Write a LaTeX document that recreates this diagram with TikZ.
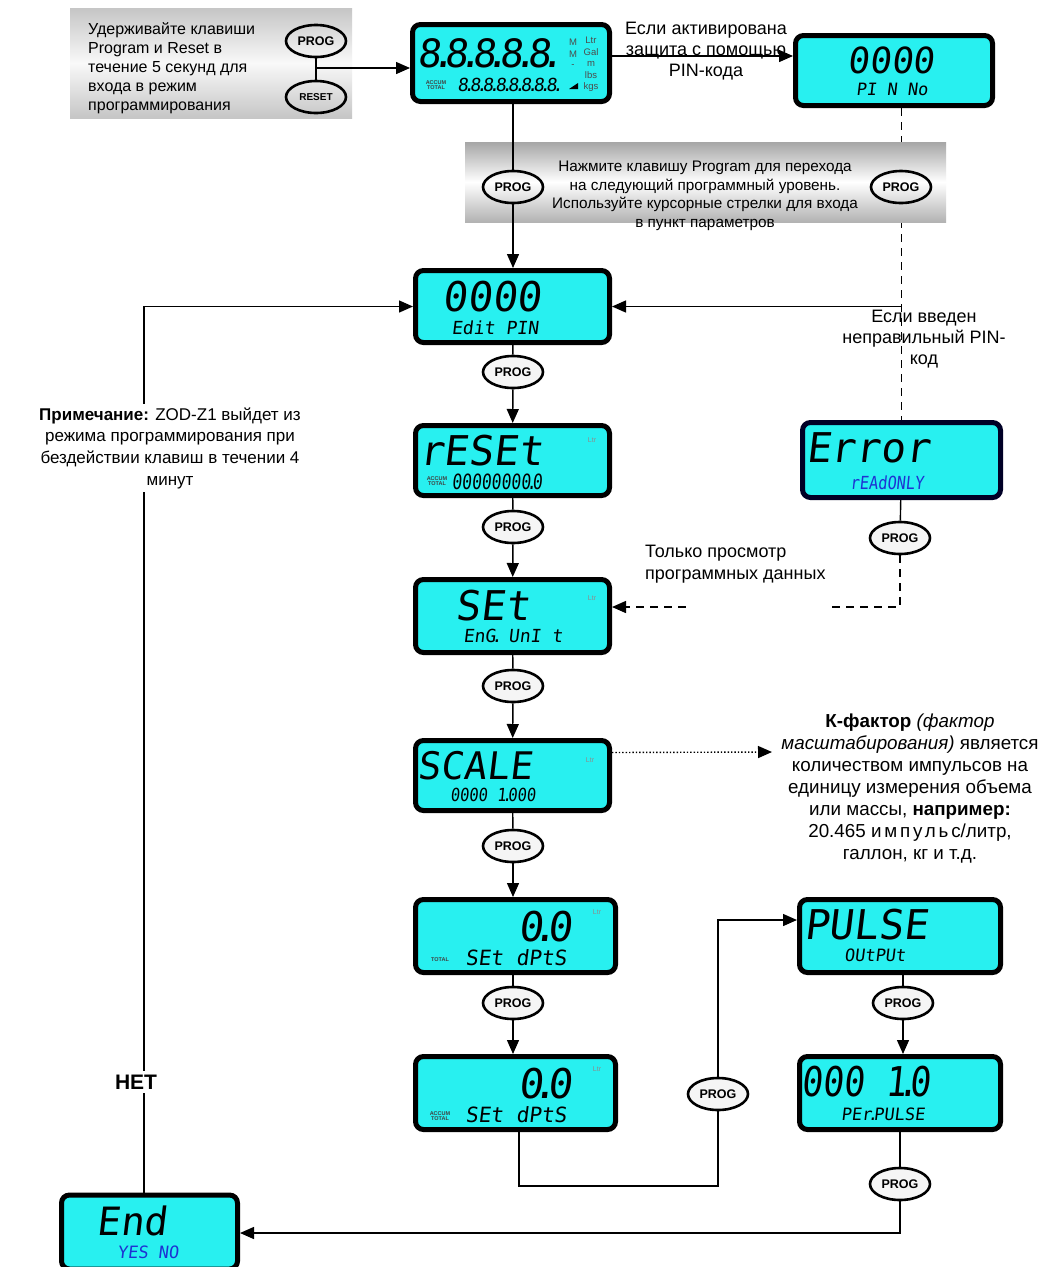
\documentclass[tikz,border=0pt]{standalone}
\usepackage{fontspec}
\setmainfont{Liberation Sans}
\newfontfamily\lcdfont[FakeSlant=0.12]{DejaVu Sans Mono}
\usetikzlibrary{arrows.meta,shapes.geometric,calc}
\definecolor{lcdc}{RGB}{40,240,240}
\definecolor{lcdblue}{RGB}{30,50,210}
\newcommand\dt{\kern-0.25em.\kern-0.25em}
\tikzset{
 lcd/.style={draw=black, line width=5pt, rounded corners=8pt, fill=lcdc, inner sep=0pt},
 prog/.style={ellipse, draw=black, line width=2.6pt, fill=gray!8, minimum width=60pt, minimum height=32pt, inner sep=0pt, font=\fontsize{12.5}{12.5}\selectfont\bfseries},
 bprog/.style={prog, fill=none},
 arr/.style={line width=1.4pt, -{Triangle[length=14pt,width=12pt]}},
 ln/.style={line width=1.4pt},
 dsh/.style={line width=1.4pt, dash pattern=on 8pt off 6pt},
 big/.style={font=\lcdfont\fontsize{41}{41}\selectfont, inner sep=0pt},
 small/.style={font=\lcdfont\fontsize{18}{18}\selectfont, inner sep=0pt},
 tiny/.style={font=\fontsize{5.5}{5.5}\selectfont\bfseries, inner sep=0pt, align=center, text=black!75},
 ind/.style={font=\fontsize{7}{7}\selectfont, inner sep=0pt, text=black!45},
 unit/.style={font=\fontsize{9.5}{11.5}\selectfont, inner sep=0pt, align=center, text=black!70},
 txt/.style={font=\fontsize{16}{21}\selectfont, align=center, inner sep=0pt},
}
\begin{document}
\begin{tikzpicture}[x=1pt,y=-1pt]
\clip (0,0) rectangle (1042,1267);
\fill[white] (0,0) rectangle (1042,1267);
% ---------- top-left grey box
\shade[top color=gray!45, bottom color=gray!45, middle color=gray!5] (70,8) rectangle (352,118);
\node[txt, align=left, anchor=west, font=\fontsize{16}{19}\selectfont] (hold) at (88,68)
 {Удерживайте клавиши\\Program и Reset в\\течение 5 секунд для\\входа в режим\\программирования};
\node[bprog] (tprog) at (316,41) {PROG};
\node[bprog, font=\fontsize{10}{10}\selectfont\bfseries] (treset) at (316,97) {RESET};
\draw[ln] (tprog) -- (treset);
\coordinate (j1) at (316,68);
% ---------- LCD boxes
\node[lcd, minimum width=197pt, minimum height=77pt] (top) at (511,63) {};
\node[lcd, minimum width=197pt, minimum height=70pt] (pin) at (894,70.5) {};
\node[lcd, minimum width=194pt, minimum height=72pt] (editpin) at (512.5,306.5) {};
\node[lcd, minimum width=194pt, minimum height=70pt] (reset) at (512.5,460.5) {};
\node[lcd, minimum width=194pt, minimum height=73pt] (set) at (512.5,616) {};
\node[lcd, minimum width=194pt, minimum height=70pt] (scale) at (512.5,775.5) {};
\node[lcd, minimum width=200pt, minimum height=73pt] (dp1) at (515.5,936) {};
\node[lcd, minimum width=200pt, minimum height=73pt] (dp2) at (515.5,1093) {};
\node[lcd, minimum width=201pt, minimum height=73pt] (pulse) at (900,936) {};
\node[lcd, minimum width=201pt, minimum height=73pt] (pp10) at (900,1093) {};
\node[lcd, draw=black!85!blue, minimum width=198pt, minimum height=75pt] (error) at (901.5,460) {};
\node[lcd, minimum width=176pt, minimum height=74pt] (endb) at (149.5,1232) {};
% ---------- LCD contents
\node[big, font=\lcdfont\fontsize{39}{39}\selectfont] (t1) at (486,53) {8\dt8\dt8\dt8\dt8\dt};
\node[tiny] (t2) at (436,85) {ACCUM\\TOTAL};
\node[big, font=\lcdfont\fontsize{18}{18}\selectfont] (t3) at (508,85) {8\dt8\dt8\dt8\dt8\dt8\dt8\dt8\dt};
\node[unit] (t4) at (573,48) {M\\M};
\node[unit] (t4b) at (573,66) {-};
\node[unit] (t5) at (591,64.5) {Ltr\\Gal\\m\\lbs\\kgs};
\fill (569,89) -- (578,83) -- (578,89) -- cycle;
\node[big, font=\lcdfont\fontsize{36}{36}\selectfont] (pn1) at (891,60) {0000};
\node[small, font=\lcdfont\fontsize{17}{17}\selectfont] (pn2) at (892,89) {PI N No};
\node[big] (ep1) at (492,297) {0000};
\node[small] (ep2) at (495,328) {Edit PIN};
\node[big] (rs1) at (481,451) {rESEt};
\node[tiny] (rs2) at (437,481) {ACCUM\\TOTAL};
\node[big, font=\lcdfont\fontsize{21}{21}\selectfont] (rs3) at (497,482) {\scalebox{0.78}[1]{00000000\dt0}};
\node[ind] (rs4) at (592,440) {Ltr};
\node[big] (st1) at (493,606) {SEt};
\node[small] (st2) at (513,636) {EnG\dt\ UnI t};
\node[ind] (st3) at (592,598) {Ltr};
\node[big, font=\lcdfont\fontsize{38}{38}\selectfont] (sc1) at (475,766) {SCALE};
\node[small] (sc2) at (493,795) {\scalebox{0.86}[1]{0000 1\dt000}};
\node[ind] (sc3) at (590,760) {Ltr};
\node[big] (d11) at (545,927) {0\dt0};
\node[tiny] (d12) at (440,960) {TOTAL};
\node[small, font=\lcdfont\fontsize{21}{21}\selectfont] (d13) at (516,958) {SEt dPtS};
\node[ind] (d14) at (597,912) {Ltr};
\node[big] (d21) at (545,1084) {0\dt0};
\node[tiny] (d22) at (440,1116) {ACCUM\\TOTAL};
\node[small, font=\lcdfont\fontsize{21}{21}\selectfont] (d23) at (516,1115) {SEt dPtS};
\node[ind] (d24) at (597,1069) {Ltr};
\node[big] (pl1) at (866,925) {PULSE};
\node[small, font=\lcdfont\fontsize{17}{17}\selectfont] (pl2) at (875,955) {OUtPUt};
\node[big] (pp1) at (866,1082) {\scalebox{0.85}[1]{000 1\dt0}};
\node[small, font=\lcdfont\fontsize{17}{17}\selectfont] (pp2) at (883,1114) {PEr\dt PULSE};
\node[big] (er1) at (868,448) {Error};
\node[small, text=lcdblue] (er2) at (887,483) {\scalebox{0.85}[1]{rEAdONLY}};
\node[big, font=\lcdfont\fontsize{39}{39}\selectfont] (en1) at (132,1221) {End};
\node[small, text=lcdblue, font=\lcdfont\fontsize{17}{17}\selectfont] (en2) at (148,1252) {YES NO};
% ---------- dashed line from PIN box (drawn before the banner)
\draw[dsh] (pin.south -| error.north) -- (error.north);
% ---------- banner
\shade[top color=gray!70, bottom color=gray!60, middle color=white] (465,142) rectangle (946,222);
\node[txt, font=\fontsize{15.3}{18.5}\selectfont] (bann) at (705,196)
 {Нажмите клавишу Program для перехода\\на следующий программный уровень.\\Используйте курсорные стрелки для входа\\в пункт параметров};
\node[bprog] (bp1) at (513,187) {PROG};
\node[bprog] (bp2) at (901,187) {PROG};
% ---------- PROG buttons in the flow
\node[prog] (p1) at (513,372) {PROG};
\node[prog] (p2) at (513,527) {PROG};
\node[prog] (ep) at (900,538) {PROG};
\node[prog] (p3) at (513,686) {PROG};
\node[prog] (p4) at (513,846) {PROG};
\node[prog] (p5) at (513,1003) {PROG};
\node[prog] (p6) at (718,1094) {PROG};
\node[prog] (p7) at (903,1003) {PROG};
\node[prog] (p8) at (900,1184) {PROG};
% ---------- connectors
\draw[arr] (j1) -- (top.west |- j1);
\draw[arr] ([yshift=7pt]top.east) -- ([yshift=14.5pt]pin.west);
\draw[ln] (bp1 |- top.south) -- (bp1.north);
\draw[arr] (bp1.south) -- (bp1 |- editpin.north);
\draw[arr] (error.north |- editpin.east) -- (editpin.east);
\draw[ln] (editpin) -- (p1);
\draw[arr] (p1) -- (reset);
\draw[ln] (reset) -- (p2);
\draw[arr] (p2) -- (set);
\draw[ln] (set) -- (p3);
\draw[arr] (p3) -- (scale);
\draw[ln] (scale) -- (p4);
\draw[arr] (p4) -- (p4 |- dp1.north);
\draw[ln] (p4 |- dp1.south) -- (p5);
\draw[arr] (p5) -- (p5 |- dp2.north);
\draw[ln] (error) -- (ep);
\draw[dsh, -{Triangle[length=14pt,width=12pt]}] (ep.south) |- ([yshift=9pt]set.east);
\fill[white] (688,596) rectangle (830,655);
\draw[ln, dotted, -{Triangle[length=14pt,width=12pt]}] ([yshift=23pt]scale.east) -- (772,752);
\coordinate (c1) at (519,1186);
\draw[ln] (dp2.south -| c1) -- (c1) -| (p6.south);
\draw[arr] (p6.north) |- ([yshift=16pt]pulse.west);
\draw[ln] (pulse.south -| p7) -- (p7);
\draw[arr] (p7) -- (p7 |- pp10.north);
\draw[ln] (pp10.south -| p8) -- (p8);
\draw[arr] (p8.south) |- ([yshift=-1pt]endb.east);
\draw[arr] (endb.north -| 144,0) |- (editpin.west);
% ---------- text labels
\node[txt, font=\fontsize{18}{21}\selectfont] (lpin) at (706,51) {Если активирована\\защита с помощью\\PIN-кода};
\node[txt, font=\fontsize{18}{21}\selectfont] (lwrong) at (924,339) {Если введен\\неправильный PIN-\\код};
\node[txt, align=left, anchor=west, font=\fontsize{18}{22}\selectfont] (lview) at (645,564) {Только просмотр\\программных данных};
\node[txt, fill=white, inner sep=3pt, font=\fontsize{17}{21.7}\selectfont] (lnote) at (170,448)
 {\textbf{Примечание:} ZOD-Z1 выйдет из\\режима программирования при\\бездействии клавиш в течении 4\\минут};
\node[txt, fill=white, inner sep=4pt, font=\fontsize{21}{21}\selectfont\bfseries] (lno) at (136,1082) {НЕТ};
\node[txt, font=\fontsize{18.8}{22}\selectfont] (lk) at (910,789)
 {\textbf{К-фактор} \textit{(фактор}\\\textit{масштабирования)} является\\количеством импульсов на\\единицу измерения объема\\или массы, \textbf{например:}\\20.465 {\addfontfeature{LetterSpace=15}импульс}/литр,\\галлон, кг и т.д.};
\end{tikzpicture}
\end{document}
